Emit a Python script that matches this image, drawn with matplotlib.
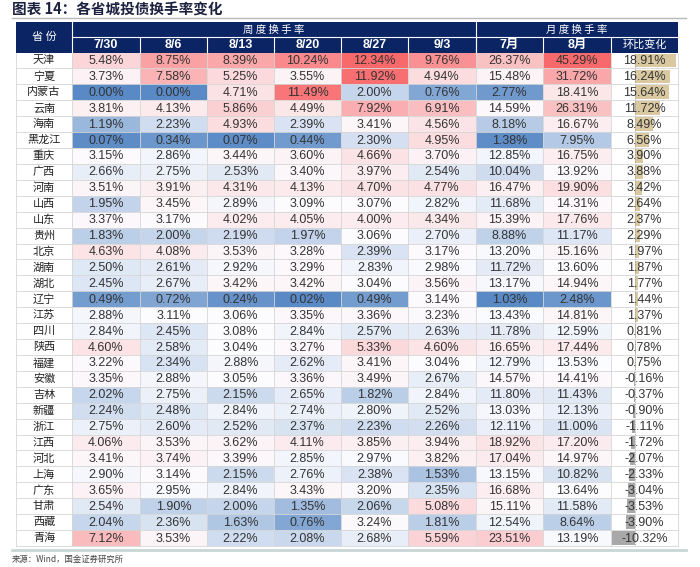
import numpy as np
import matplotlib
matplotlib.use("Agg")
import matplotlib.pyplot as plt
from matplotlib.patches import Rectangle
from matplotlib.colors import LinearSegmentedColormap, TwoSlopeNorm

plt.rcParams['font.family'] = ['Liberation Sans', 'Noto Sans CJK SC', 'DejaVu Sans']

title = "图表 14：各省城投债换手率变化"
source = "来源：Wind，国金证券研究所"

provinces = ["天津", "宁夏", "内蒙古", "云南", "海南", "黑龙江", "重庆", "广西", "河南", "山西",
             "山东", "贵州", "北京", "湖南", "湖北", "辽宁", "江苏", "四川", "陕西", "福建",
             "安徽", "吉林", "新疆", "浙江", "江西", "河北", "上海", "广东", "甘肃", "西藏", "青海"]

week_labels = ["7/30", "8/6", "8/13", "8/20", "8/27", "9/3"]
month_labels = ["7月", "8月"]
change_label = "环比变化"

w_0730 = [5.48, 3.73, 0.00, 3.81, 1.19, 0.07, 3.15, 2.66, 3.51, 1.95, 3.37, 1.83, 4.63, 2.50, 2.45, 0.49,
          2.88, 2.84, 4.60, 3.22, 3.35, 2.02, 2.24, 2.75, 4.06, 3.41, 2.90, 3.65, 2.54, 2.04, 7.12]
w_0806 = [8.75, 7.58, 0.00, 4.13, 2.23, 0.34, 2.86, 2.75, 3.91, 3.45, 3.17, 2.00, 4.08, 2.61, 2.67, 0.72,
          3.11, 2.45, 2.58, 2.34, 2.88, 2.75, 2.48, 2.60, 3.53, 3.74, 3.14, 2.95, 1.90, 2.36, 3.53]
w_0813 = [8.39, 5.25, 4.71, 5.86, 4.93, 0.07, 3.44, 2.53, 4.31, 2.89, 4.02, 2.19, 3.53, 2.92, 3.42, 0.24,
          3.06, 3.08, 3.04, 2.88, 3.05, 2.15, 2.84, 2.52, 3.62, 3.39, 2.15, 2.84, 2.00, 1.63, 2.22]
w_0820 = [10.24, 3.55, 11.49, 4.49, 2.39, 0.44, 3.60, 3.40, 4.13, 3.09, 4.05, 1.97, 3.28, 3.29, 3.42, 0.02,
          3.35, 2.84, 3.27, 2.62, 3.36, 2.65, 2.74, 2.37, 4.11, 2.85, 2.76, 3.43, 1.35, 0.76, 2.08]
w_0827 = [12.34, 11.92, 2.00, 7.92, 3.41, 2.30, 4.66, 3.97, 4.70, 3.07, 4.00, 3.06, 2.39, 2.83, 3.04, 0.49,
          3.36, 2.57, 5.33, 3.41, 3.49, 1.82, 2.80, 2.23, 3.85, 2.97, 2.38, 3.20, 2.06, 3.24, 2.68]
w_0903 = [9.76, 4.94, 0.76, 6.91, 4.56, 4.95, 3.70, 2.54, 4.77, 2.82, 4.34, 2.70, 3.17, 2.98, 3.56, 3.14,
          3.23, 2.63, 4.60, 3.04, 2.67, 2.84, 2.52, 2.26, 3.94, 3.82, 1.53, 2.35, 5.08, 1.81, 5.59]
m_jul = [26.37, 15.48, 2.77, 14.59, 8.18, 1.38, 12.85, 10.04, 16.47, 11.68, 15.39, 8.88, 13.20, 11.72, 13.17, 1.03,
         13.43, 11.78, 16.65, 12.79, 14.57, 11.80, 13.03, 12.11, 18.92, 17.04, 13.15, 16.68, 15.11, 12.54, 23.51]
m_aug = [45.29, 31.72, 18.41, 26.31, 16.67, 7.95, 16.75, 13.92, 19.90, 14.31, 17.76, 11.17, 15.16, 13.60, 14.94, 2.48,
         14.81, 12.59, 17.44, 13.53, 14.41, 11.43, 12.13, 11.00, 17.20, 14.97, 10.82, 13.64, 11.58, 8.64, 13.19]
mom_change = [18.91, 16.24, 15.64, 11.72, 8.49, 6.56, 3.90, 3.88, 3.42, 2.64, 2.37, 2.29, 1.97, 1.87, 1.77, 1.44,
              1.37, 0.81, 0.78, 0.75, -0.16, -0.37, -0.90, -1.11, -1.72, -2.07, -2.33, -3.04, -3.53, -3.90, -10.32]

weekly = np.array([w_0730, w_0806, w_0813, w_0820, w_0827, w_0903])
monthly = np.array([m_jul, m_aug])

# layout in pixels
W, H = 700, 567
col_edges = [16, 72, 140, 207, 274, 341, 408, 476, 543, 611, 678]
y_h1, y_h2, y_data = 22, 37, 52.5
row_h = (546 - y_data) / len(provinces)
navy = "#0b2463"
grid_c = "#d6d6d6"
txt_c = "#333333"
cjk = ['Noto Sans CJK SC', 'DejaVu Sans']

cmap = LinearSegmentedColormap.from_list("excel3", ["#5A8AC6", "#FCFCFF", "#F8696B"])

fig = plt.figure(figsize=(W / 100, H / 100), dpi=100)
ax = fig.add_axes([0, 0, 1, 1])
ax.set_xlim(0, W)
ax.set_ylim(H, 0)
ax.axis("off")
ax.patch.set_alpha(0)
ax.set_zorder(2)

# title and rules
ax.text(12, 10, title, fontsize=10.5, fontweight="bold", color="#1c2240",
        family=cjk, va="center", ha="left")
ax.plot([12, 686], [17.5, 17.5], color="#b8b8b8", lw=1)
ax.plot([12, 686], [549.5, 549.5], color="#c9d6d6", lw=2)
ax.text(12, 559.5, source, fontsize=6, color="#444444", family=cjk, va="center", ha="left")

# header
ax.add_patch(Rectangle((col_edges[0], y_h1), col_edges[-1] - col_edges[0], y_data - y_h1,
                       facecolor=navy, edgecolor="none"))
ax.text((col_edges[0] + col_edges[1]) / 2, (y_h1 + y_data) / 2, "省 份", color="white",
        fontsize=8, ha="center", va="center", family=cjk)
ax.text((col_edges[1] + col_edges[7]) / 2, (y_h1 + y_h2) / 2, "周 度 换 手 率", color="white",
        fontsize=7.5, ha="center", va="center", family=cjk)
ax.text((col_edges[7] + col_edges[10]) / 2, (y_h1 + y_h2) / 2, "月 度 换 手 率", color="white",
        fontsize=7.5, ha="center", va="center", family=cjk)
ax.plot([col_edges[1], col_edges[-1]], [y_h2, y_h2], color="white", lw=0.8)
ax.plot([col_edges[1]] * 2, [y_h1, y_data], color="white", lw=0.8)
ax.plot([col_edges[7]] * 2, [y_h1, y_data], color="white", lw=0.8)
sub_labels = week_labels + month_labels + [change_label]
for j, lab in enumerate(sub_labels):
    x0, x1 = col_edges[j + 1], col_edges[j + 2]
    if j > 0:
        ax.plot([x0, x0], [y_h2, y_data], color="white", lw=0.8)
    if lab == change_label:
        ax.text((x0 + x1) / 2, (y_h2 + y_data) / 2, lab, color="white", fontsize=8,
                ha="center", va="center", family=cjk)
    else:
        ax.text((x0 + x1) / 2, (y_h2 + y_data) / 2 + 0.5, lab, color="white", fontsize=9,
                fontweight="bold", ha="center", va="center")

# body cells
def draw_column(j, values, norm):
    x0, x1 = col_edges[j], col_edges[j + 1]
    for i, v in enumerate(values):
        y0 = y_data + i * row_h
        ax.add_patch(Rectangle((x0, y0), x1 - x0, row_h, facecolor=cmap(norm(v)),
                               edgecolor="none", zorder=1))
        ax.text((x0 + x1) / 2, y0 + row_h / 2 + 0.5, f"{v:.2f}%", fontsize=9, color=txt_c,
                ha="center", va="center", zorder=3)

w_norm = TwoSlopeNorm(vmin=weekly.min(), vcenter=np.percentile(weekly, 50), vmax=weekly.max())
m_norm = TwoSlopeNorm(vmin=monthly.min(), vcenter=np.percentile(monthly, 50), vmax=monthly.max())
for k in range(len(week_labels)):
    draw_column(k + 1, weekly[k], w_norm)
for k in range(len(month_labels)):
    draw_column(k + 7, monthly[k], m_norm)

for i, name in enumerate(provinces):
    y0 = y_data + i * row_h
    ax.text((col_edges[0] + col_edges[1]) / 2, y0 + row_h / 2, name, fontsize=8, color="#222222",
            ha="center", va="center", family=cjk, zorder=3)
    ax.text((col_edges[9] + col_edges[10]) / 2, y0 + row_h / 2 + 0.5, f"{mom_change[i]:.2f}%",
            fontsize=9, color=txt_c, ha="center", va="center", zorder=3)

# grid lines
for i in range(1, len(provinces) + 1):
    y = y_data + i * row_h
    ax.plot([col_edges[0], col_edges[-1]], [y, y], color=grid_c, lw=0.6, zorder=2)
for x in col_edges:
    ax.plot([x, x], [y_data, y_data + len(provinces) * row_h], color=grid_c, lw=0.6, zorder=2)

# data bars for month-on-month change
bx0, bx1 = col_edges[9] + 1, col_edges[10] - 2
by0, by1 = y_data, y_data + len(provinces) * row_h
bax = fig.add_axes([bx0 / W, 1 - by1 / H, (bx1 - bx0) / W, (by1 - by0) / H])
bax.set_zorder(1)
bax.axis("off")
chg = np.array(mom_change)
bar_cols = np.where(chg >= 0, "#d9c8a0", "#a8a8a8")
bax.barh(np.arange(len(chg)), chg, height=0.86, color=bar_cols, edgecolor="none")
bax.axvline(0, color="#9a9a9a", lw=0.6, ls=(0, (1, 1)))
bax.set_xlim(chg.min(), chg.max())
bax.set_ylim(len(chg) - 0.5, -0.5)

fig.savefig("out.png", dpi=100, facecolor="white")
